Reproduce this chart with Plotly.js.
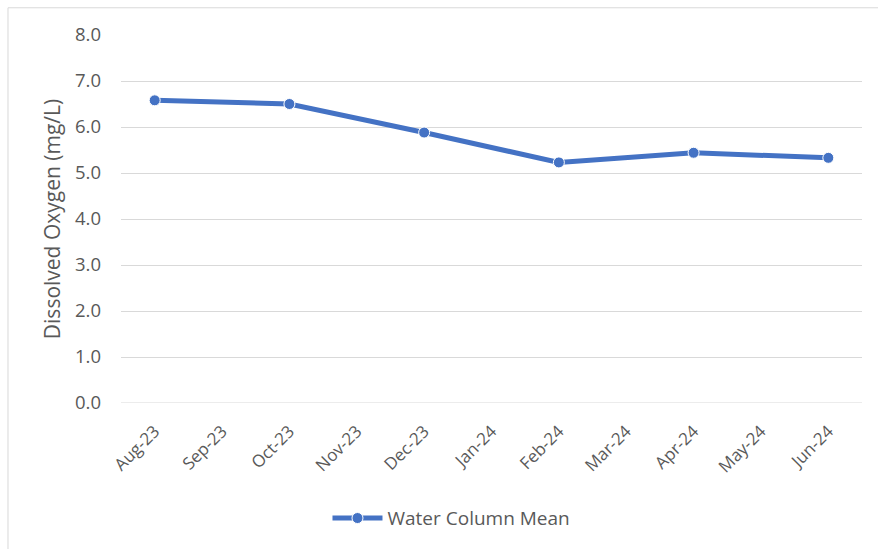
<!DOCTYPE html>
<html>
<head>
<meta charset="utf-8">
<script src="https://cdn.plot.ly/plotly-3.0.1.min.js"></script>
<style>
html,body{margin:0;padding:0;background:#fff;}
#chart{width:878px;height:549px;}
</style>
</head>
<body>
<div id="chart"></div>
<script>
const months = ["Aug-23","Sep-23","Oct-23","Nov-23","Dec-23","Jan-24","Feb-24","Mar-24","Apr-24","May-24","Jun-24"];
const sampleMonths = ["Aug-23","Oct-23","Dec-23","Feb-24","Apr-24","Jun-24"];
const waterColumnMean = [6.58, 6.50, 5.88, 5.23, 5.44, 5.33];
const yTicks = [0,1,2,3,4,5,6,7,8];

const FONT = "'Open Sans', 'Noto Sans', sans-serif";
const trace = {
  x: sampleMonths,
  y: waterColumnMean,
  type: 'scatter',
  mode: 'lines+markers',
  name: 'Water Column Mean',
  line: {color: '#4472C4', width: 5},
  marker: {color: '#4472C4', size: 11, line: {color: '#ffffff', width: 1}}
};

const layout = {
  width: 878, height: 549,
  margin: {l: 121, r: 16, t: 35, b: 146},
  paper_bgcolor: '#ffffff', plot_bgcolor: '#ffffff',
  font: {family: FONT, size: 18, color: '#595959'},
  showlegend: true,
  legend: {orientation: 'h', x: 0.446, xanchor: 'center', y: -0.313, yanchor: 'middle',
           itemwidth: 50,
           font: {family: FONT, size: 19, color: '#595959'}},
  xaxis: {
    type: 'category', categoryorder: 'array', categoryarray: months,
    range: [-0.5, months.length - 0.5],
    tickvals: months, ticktext: months,
    tickangle: -45, showgrid: false, zeroline: false,
    showline: false, ticks: '', fixedrange: true,
    ticklabelstandoff: 14,
    tickfont: {family: FONT, size: 17, color: '#595959'}
  },
  yaxis: {
    range: [0, 8], tickvals: yTicks, tickformat: '.1f',
    showgrid: true, gridcolor: '#d9d9d9', gridwidth: 1,
    zeroline: false, showline: false, ticks: '',
    ticklabelstandoff: 19,
    tickfont: {family: FONT, size: 18.5, color: '#595959'},
    title: {text: 'Dissolved Oxygen (mg/L)', standoff: 8,
            font: {family: FONT, size: 21, color: '#595959'}}
  },
  shapes: [
    {type: 'line', xref: 'paper', yref: 'paper', x0: -0.1525, x1: 1.03, y0: 1.074, y1: 1.074,
     line: {color: '#d9d9d9', width: 1}},
    {type: 'line', xref: 'paper', yref: 'paper', x0: -0.1525, x1: -0.1525, y0: 1.074, y1: -0.41,
     line: {color: '#d9d9d9', width: 1}},
    {type: 'line', xref: 'paper', yref: 'y', x0: 0, x1: 1, y0: 0, y1: 0,
     line: {color: '#d9d9d9', width: 1}, layer: 'below'}
  ]
};

Plotly.newPlot('chart', [trace], layout, {displayModeBar: false, staticPlot: true});
</script>
</body>
</html>
